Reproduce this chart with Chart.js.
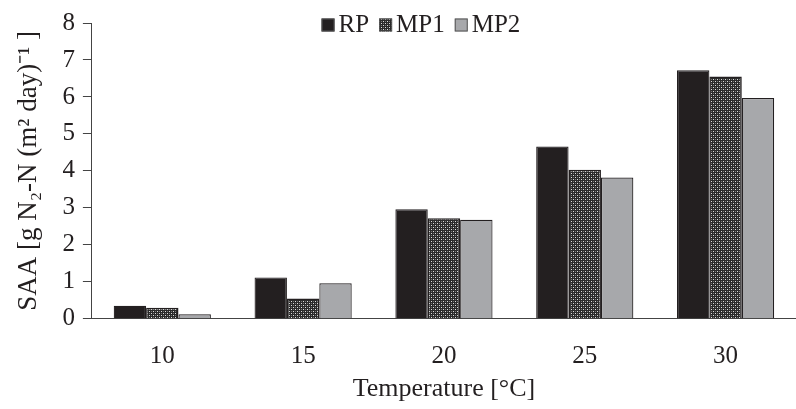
<!DOCTYPE html>
<html><head><meta charset="utf-8">
<script src="https://cdn.jsdelivr.net/npm/chart.js@4.4.1/dist/chart.umd.min.js"></script>
<style>html,body{margin:0;padding:0;background:#fff;}#wrap{width:796px;height:409px;}</style>
</head><body><div id="wrap"><canvas id="c" width="796" height="409"></canvas></div>
<script>
const categories = ['10','15','20','25','30'];
const seriesNames = ['RP','MP1','MP2'];
const rpValues  = [0.35, 1.12, 2.96, 4.66, 6.72];
const mp1Values = [0.30, 0.55, 2.72, 4.03, 6.55];
const mp2Values = [0.12, 0.96, 2.68, 3.82, 5.97];
const yTicks = [0,1,2,3,4,5,6,7,8];

function makePattern(){
  const t=document.createElement('canvas'); t.width=4; t.height=4;
  const g=t.getContext('2d');
  g.fillStyle='#dcdcdc'; g.fillRect(0,0,4,4);
  g.fillStyle='#2a2a2a';
  g.fillRect(0,0,1,4); g.fillRect(2,0,1,4);
  g.fillRect(0,0,4,1); g.fillRect(0,2,4,1);
  g.fillStyle='#777'; g.fillRect(1,1,1,1); g.fillRect(3,3,1,1);
  return document.getElementById('c').getContext('2d').createPattern(t,'repeat');
}
const pat = makePattern();
const ff = "'Liberation Serif','Times New Roman',serif";
const txt = '#231f20';

const legendPlugin = {
  id:'topLegend',
  afterDatasetsDraw(chart){
    const ctx=chart.ctx, ca=chart.chartArea;
    ctx.save();
    ctx.font = "25px "+ff;
    ctx.textBaseline='middle';
    const box=13, gap=4, itemGap=10;
    const items = chart.data.datasets.map(d=>({d, w: box+gap+ctx.measureText(d.label).width}));
    const total = items.reduce((s,i)=>s+i.w,0)+itemGap*(items.length-1);
    let x = (ca.left+ca.right)/2 - 23 - total/2;
    const y = ca.top + 1;
    items.forEach(it=>{
      ctx.fillStyle = it.d.backgroundColor;
      ctx.fillRect(x, y-box/2+1, box, box);
      ctx.strokeStyle='#555'; ctx.lineWidth=1;
      ctx.strokeRect(x+0.5, y-box/2+1.5, box-1, box-1);
      ctx.fillStyle=txt;
      ctx.fillText(it.d.label, x+box+gap, y+1);
      x += it.w + itemGap;
    });
    ctx.restore();
  }
};

new Chart(document.getElementById('c'),{
  type:'bar',
  data:{labels:categories,datasets:[
    {label:seriesNames[0],data:rpValues,backgroundColor:'#231f20',borderColor:'#231f20',borderWidth:1.2},
    {label:seriesNames[1],data:mp1Values,backgroundColor:pat,borderColor:'#231f20',borderWidth:1.5},
    {label:seriesNames[2],data:mp2Values,backgroundColor:'#a7a8ab',borderColor:'#231f20',borderWidth:1.2}
  ]},
  plugins:[legendPlugin],
  options:{
    responsive:false,animation:false,
    layout:{padding:{left:9,right:0,top:3,bottom:4}},
    datasets:{bar:{categoryPercentage:0.69,barPercentage:1.0}},
    plugins:{legend:{display:false},tooltip:{enabled:false}},
    scales:{
      x:{grid:{display:false},border:{display:true,color:'#444',width:1},
        ticks:{font:{family:ff,size:25},color:txt,padding:15},
        title:{display:true,text:'Temperature [°C]',font:{family:ff,size:26},color:txt,padding:{top:-13,bottom:0}}},
      y:{min:0,max:8,afterBuildTicks(ax){ax.ticks=yTicks.map(v=>({value:v}));},
        grid:{drawOnChartArea:false,drawTicks:true,tickLength:9,color:'#444'},
        border:{display:true,color:'#444',width:1},
        ticks:{font:{family:ff,size:25},color:txt,padding:8},
        title:{display:true,text:'SAA [g N₂-N (m² day)⁻¹ ]',font:{family:ff,size:27},color:txt,padding:{bottom:9}}}
    }
  }
});
</script></body></html>
